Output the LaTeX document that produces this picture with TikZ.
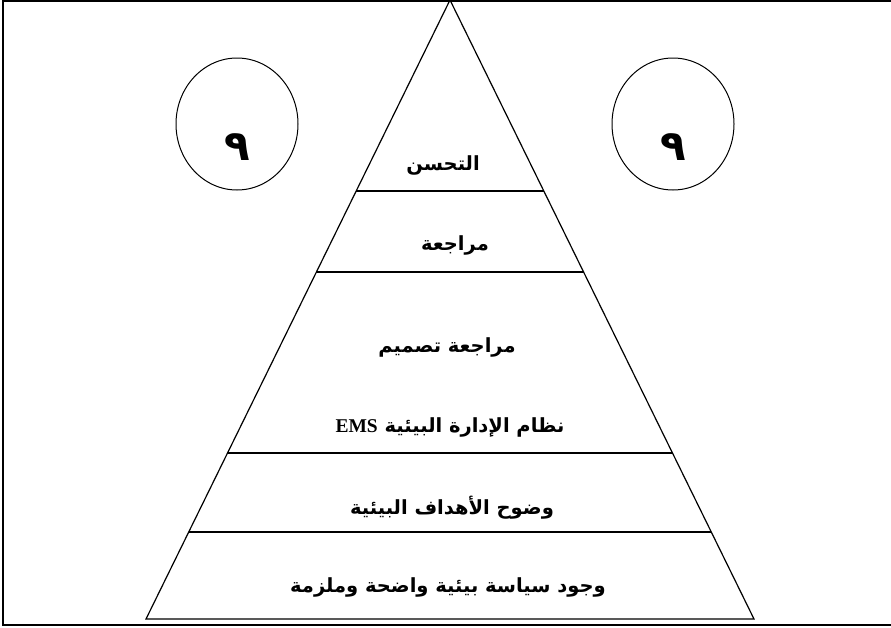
\documentclass[tikz,border=0pt]{standalone}
\usepackage{fontspec}
\setmainfont{Liberation Serif}
\newfontfamily\arabicfont[Script=Arabic]{DejaVu Sans}
\TeXXeTstate=1
\usetikzlibrary{calc,shapes.geometric}
\newcommand{\artext}[1]{{\arabicfont\beginR #1\endR}}

\begin{document}
\begin{tikzpicture}[x=1pt,y=-1pt,
    edge/.style={draw=black,line width=1.2pt},
    frame/.style={draw=black,line width=1.6pt},
    ring/.style={ellipse,draw=black,line width=1pt,
        minimum width=122pt,minimum height=132pt,inner sep=0pt},
    sign/.style={font=\fontsize{42}{46}\selectfont\bfseries,inner sep=0pt},
    tier/.style={font=\fontsize{19.5}{23}\selectfont\bfseries,inner sep=1pt}]
\useasboundingbox (0,0) rectangle (891,627);
\coordinate (frameTR) at (891,1);
\coordinate (frameTL) at (3,1);
\coordinate (frameBL) at (3,625);
\coordinate (frameBR) at (891,625);
\draw[frame] (frameTR)--(frameTL)--(frameBL)--(frameBR);
\coordinate (apex) at (450,0);
\coordinate (baseL) at (146,619);
\coordinate (baseR) at (754,619);
\draw[edge] (baseL)--(apex)--(baseR)--cycle;
\foreach \t [count=\i] in {0.3086,0.4394,0.7318,0.8595} {
    \coordinate (left\i) at ($(apex)!\t!(baseL)$);
    \coordinate (right\i) at ($(apex)!\t!(baseR)$);
    \draw[edge,line width=1.5pt] (left\i)--(right\i);
}
\node[ring] (ringL) at (237,124) {};
\node[ring] (ringR) at (673,124) {};
\node[sign] (signL) at (ringL.center) [yshift=-23pt] {\artext{٩}};
\node[sign] (signR) at (ringR.center) [yshift=-23pt] {\artext{٩}};
\node[tier] (improve) at (443,165) {\artext{التحسن}};
\node[tier] (review) at (455,245) {\artext{مراجعة}};
\node[tier] (design) at (447,347) {\artext{مراجعة تصميم}};
\node[tier] (ems) at (450,427) {\artext{نظام الإدارة البيئية \beginL{\rmfamily EMS}\endL{}}};
\node[tier] (goals) at (452,508) {\artext{وضوح الأهداف البيئية}};
\node[tier] (policy) at (448,587) {\artext{وجود سياسة بيئية واضحة وملزمة}};
\end{tikzpicture}
\end{document}
